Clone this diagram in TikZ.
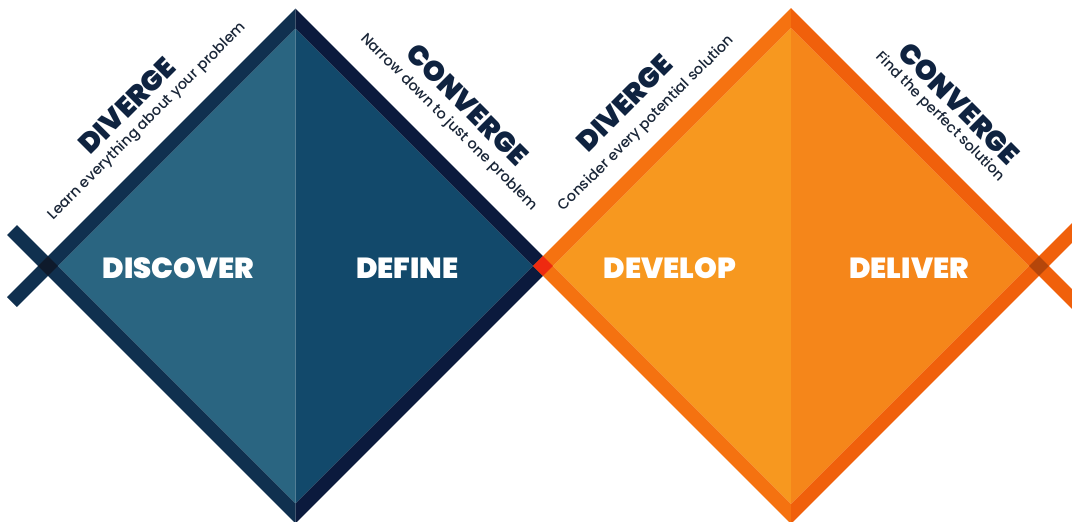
\documentclass[tikz,border=0pt]{standalone}
\usepackage{fontspec}
\IfFontExistsTF{Poppins Black}{\newfontfamily\heavyfont{Poppins Black}}{%
  \IfFontExistsTF{Poppins ExtraBold}{\newfontfamily\heavyfont{Poppins ExtraBold}}{%
    \newfontfamily\heavyfontbase{Poppins}\def\heavyfont{\heavyfontbase\bfseries}}}
\IfFontExistsTF{Poppins Medium}{\newfontfamily\subfont{Poppins Medium}}{\newfontfamily\subfont{Poppins}}
\definecolor{tealL}{HTML}{2A6581}
\definecolor{blueR}{HTML}{12496B}
\definecolor{navyL}{HTML}{10304F}
\definecolor{navyR}{HTML}{0B1A3D}
\definecolor{navyX}{HTML}{0E1A2C}
\definecolor{orL}{HTML}{F7981F}
\definecolor{orR}{HTML}{F5861A}
\definecolor{obandL}{HTML}{F57210}
\definecolor{obandR}{HTML}{F0600B}
\definecolor{midX}{HTML}{EE2A10}
\definecolor{orX}{HTML}{B5460A}
\definecolor{titlecol}{HTML}{0F2340}
\definecolor{subcol}{HTML}{1A2638}
\begin{document}
\begin{tikzpicture}[x=1pt,y=-1pt,
  mainlbl/.style={text=white, font=\heavyfont\fontsize{29}{31}\selectfont, inner sep=0pt},
  headlbl/.style={text=titlecol, font=\heavyfont\fontsize{28}{30}\selectfont, inner sep=0pt},
  sublbl/.style={text=subcol, font=\subfont\fontsize{14.5}{16}\selectfont, inner sep=0pt},
  armline/.style={line width=14pt, line cap=butt}]
\useasboundingbox (0,0) rectangle (1072,522);
\clip (0,0) rectangle (1072,522);
% ---------- left diamond ----------
\fill[tealL] (295.5,28.4) -- (57.9,266) -- (295.5,503.6) -- cycle;
\fill[blueR] (295.5,28.4) -- (533.1,266) -- (295.5,503.6) -- cycle;
\fill[navyL] (295.5,8.6) -- (38.1,266) -- (295.5,523.4) -- (295.5,503.6) -- (57.9,266) -- (295.5,28.4) -- cycle;
\fill[navyR] (295.5,8.6) -- (552.9,266) -- (295.5,523.4) -- (295.5,503.6) -- (533.1,266) -- (295.5,28.4) -- cycle;
\coordinate (L1) at (48,266);
\coordinate (armA) at (12,302);
\coordinate (armB) at (12,230);
\draw[armline, navyL] (L1) -- (armA);
\draw[armline, navyL] (L1) -- (armB);
\fill[navyX] (38.1,266) -- (48,256.1) -- (57.9,266) -- (48,275.9) -- cycle;
% ---------- right diamond ----------
\fill[orL] (791,27.9) -- (552.9,266) -- (791,504.1) -- cycle;
\fill[orR] (791,27.9) -- (1029.1,266) -- (791,504.1) -- cycle;
\fill[obandL] (791,8.1) -- (533.1,266) -- (791,523.9) -- (791,504.1) -- (552.9,266) -- (791,27.9) -- cycle;
\fill[obandR] (791,8.1) -- (1048.9,266) -- (791,523.9) -- (791,504.1) -- (1029.1,266) -- (791,27.9) -- cycle;
\coordinate (R2) at (1039,266);
\coordinate (armC) at (1095,210);
\coordinate (armD) at (1095,322);
\draw[armline, obandR] (R2) -- (armC);
\draw[armline, obandR] (R2) -- (armD);
\fill[orX] (1029.1,266) -- (1039,256.1) -- (1048.9,266) -- (1039,275.9) -- cycle;
% middle crossing
\fill[midX] (533.1,266) -- (543,256.1) -- (552.9,266) -- (543,275.9) -- cycle;
% ---------- labels ----------
\node[mainlbl] (discover) at (178.5,268) {DISCOVER};
\node[mainlbl] (define) at (407.5,268) {DEFINE};
\node[mainlbl] (develop) at (670,268) {DEVELOP};
\node[mainlbl] (deliver) at (909,268) {DELIVER};
\node[headlbl, rotate=45] (div1) at (127,105.5) {DIVERGE};
\node[sublbl, rotate=45] (div1s) at (147.5,121.5) {Learn everything about your problem};
\node[headlbl, rotate=-45] (con1) at (467.5,104.5) {CONVERGE};
\node[sublbl, rotate=-45] (con1s) at (449,122.5) {Narrow down to just one problem};
\node[headlbl, rotate=45] (div2) at (624.5,103) {DIVERGE};
\node[sublbl, rotate=45] (div2s) at (646.5,123.5) {Consider every potential solution};
\node[headlbl, rotate=-45] (con2) at (959,103.5) {CONVERGE};
\node[sublbl, rotate=-45] (con2s) at (940,117) {Find the perfect solution};
\end{tikzpicture}
\end{document}
